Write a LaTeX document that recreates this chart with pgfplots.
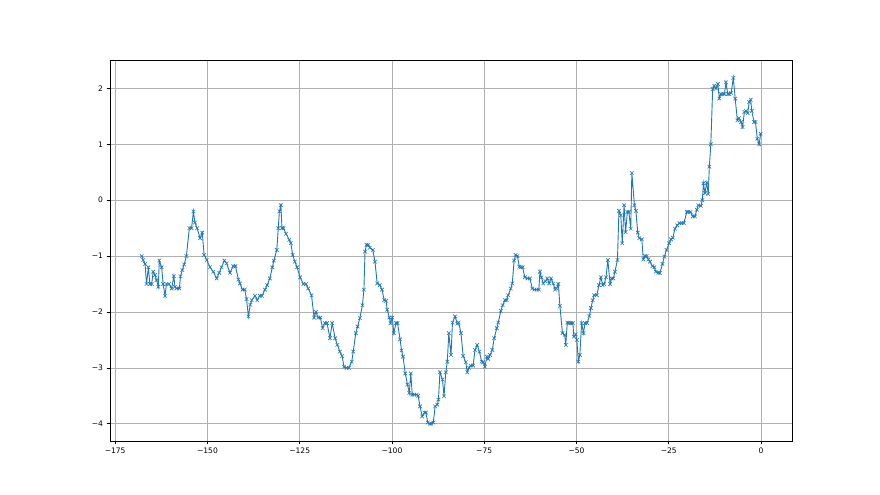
\documentclass[border=0pt]{standalone}
\usepackage{pgfplots}
\pgfplotsset{compat=1.18}
\usepackage{fontspec}
\setmainfont{DejaVu Sans}
\definecolor{mplblue}{HTML}{1F77B4}
\definecolor{gridgray}{HTML}{B0B0B0}
\begin{document}
\begin{tikzpicture}[x=1bp,y=1bp]
\useasboundingbox (0,0) rectangle (880,495);
\begin{axis}[
  at={(110bp,54bp)}, anchor=south west,
  scale only axis, width=682bp, height=381bp,
  xmin=-176.4, xmax=8.4, ymin=-4.31, ymax=2.51,
  xtick={-175,-150,-125,-100,-75,-50,-25,0},
  xticklabels={−175,−150,−125,−100,−75,−50,−25,0},
  ytick={-4,-3,-2,-1,0,1,2},
  yticklabels={−4,−3,−2,−1,0,1,2},
  tick align=outside, xtick pos=bottom, ytick pos=left,
  major tick length=3.5bp,
  grid=major,
  grid style={gridgray, line width=0.6bp},
  axis line style={black, line width=0.6bp},
  tick style={black, line width=0.6bp},
  tick label style={font=\fontsize{7.6}{8}\selectfont},
]
\addplot[mplblue, line width=0.9bp, mark=x, mark size=2.5bp, mark options={line width=0.6bp}] coordinates {
(-167.8,-1.0)(-167.4,-1.07)(-166.9,-1.14)(-166.5,-1.5)(-166.0,-1.2)(-165.6,-1.5)(-165.1,-1.5)
(-164.7,-1.28)(-164.2,-1.34)(-163.8,-1.43)(-163.3,-1.55)(-163.05,-1.08)(-162.4,-1.2)(-162.0,-1.5)
(-161.5,-1.71)(-161.1,-1.5)(-160.4,-1.5)(-159.7,-1.58)(-159.1,-1.36)(-158.8,-1.55)(-158.4,-1.58)
(-157.6,-1.58)(-157.3,-1.36)(-156.8,-1.25)(-156.3,-1.15)(-155.7,-1.0)(-154.9,-0.5)(-154.3,-0.5)
(-153.8,-0.2)(-153.4,-0.4)(-152.8,-0.5)(-152.0,-0.68)(-151.4,-0.58)(-150.9,-0.98)(-150.2,-1.07)
(-149.3,-1.2)(-148.4,-1.28)(-147.5,-1.4)(-146.8,-1.3)(-146.2,-1.2)(-145.4,-1.08)(-144.8,-1.13)
(-143.9,-1.3)(-143.0,-1.18)(-142.4,-1.18)(-141.6,-1.42)(-141.2,-1.49)(-140.5,-1.6)(-139.9,-1.6)
(-139.4,-1.77)(-138.9,-2.08)(-138.4,-1.87)(-138.0,-1.79)(-137.1,-1.71)(-136.5,-1.79)(-135.8,-1.71)
(-135.2,-1.71)(-134.4,-1.6)(-133.8,-1.52)(-133.1,-1.4)(-132.4,-1.2)(-132.0,-1.08)(-131.2,-0.89)
(-130.8,-0.5)(-130.5,-0.2)(-130.1,-0.09)(-129.8,-0.5)(-129.4,-0.5)(-128.7,-0.6)(-127.8,-0.71)
(-127.4,-0.77)(-126.9,-0.98)(-126.3,-1.1)(-125.7,-1.2)(-124.9,-1.38)(-124.0,-1.5)(-123.3,-1.5)
(-122.7,-1.58)(-121.8,-1.7)(-121.1,-2.1)(-120.6,-2.0)(-120.0,-2.1)(-119.4,-2.1)(-118.8,-2.29)
(-118.2,-2.2)(-117.6,-2.2)(-116.8,-2.47)(-116.2,-2.2)(-115.4,-2.47)(-114.8,-2.59)(-114.1,-2.71)
(-113.5,-2.79)(-113.0,-2.98)(-112.3,-3.0)(-111.7,-3.0)(-110.9,-2.89)(-110.5,-2.71)(-109.8,-2.38)
(-109.3,-2.26)(-108.7,-2.11)(-108.0,-1.88)(-107.6,-1.6)(-107.3,-0.92)(-106.9,-0.8)(-106.4,-0.8)
(-106.0,-0.85)(-105.2,-0.89)(-104.6,-1.1)(-104.0,-1.49)(-103.3,-1.52)(-102.7,-1.6)(-102.1,-1.79)
(-101.6,-1.8)(-101.3,-1.96)(-100.7,-2.1)(-100.4,-2.2)(-99.9,-2.1)(-99.5,-2.38)(-98.9,-2.2)
(-98.5,-2.2)(-97.8,-2.49)(-97.4,-2.69)(-97.0,-2.8)(-96.4,-3.1)(-95.8,-3.3)(-95.3,-3.45)
(-94.9,-3.1)(-94.5,-3.48)(-94.0,-3.48)(-93.3,-3.48)(-92.9,-3.5)(-92.4,-3.69)(-91.8,-3.87)
(-91.2,-3.8)(-90.8,-3.8)(-90.3,-3.98)(-89.7,-4.0)(-89.3,-4.0)(-88.8,-3.98)(-88.3,-3.69)
(-87.7,-3.66)(-87.4,-3.57)(-87.0,-3.08)(-86.3,-3.21)(-85.9,-3.51)(-85.4,-3.08)(-85.0,-2.89)
(-84.6,-2.38)(-84.0,-2.77)(-83.6,-2.19)(-82.9,-2.08)(-82.3,-2.21)(-81.9,-2.19)(-81.3,-2.38)
(-80.7,-2.79)(-80.0,-2.9)(-79.6,-3.08)(-79.1,-3.0)(-78.7,-2.96)(-78.0,-2.96)(-77.5,-2.68)
(-76.9,-2.59)(-76.3,-2.71)(-75.7,-2.89)(-75.3,-2.9)(-74.8,-2.98)(-74.3,-2.8)(-73.9,-2.84)
(-73.4,-2.77)(-72.8,-2.68)(-72.3,-2.47)(-71.6,-2.29)(-71.2,-2.19)(-70.5,-1.98)(-70.0,-1.88)
(-69.4,-1.79)(-68.9,-1.79)(-68.5,-1.7)(-67.8,-1.58)(-67.4,-1.49)(-66.9,-1.08)(-66.5,-0.98)
(-66.0,-1.0)(-65.5,-1.19)(-65.1,-1.2)(-64.6,-1.2)(-64.0,-1.38)(-63.3,-1.4)(-62.6,-1.4)
(-62.0,-1.58)(-61.4,-1.6)(-60.8,-1.6)(-60.2,-1.6)(-59.9,-1.28)(-59.5,-1.38)(-59.0,-1.49)
(-58.4,-1.45)(-57.9,-1.4)(-57.4,-1.49)(-56.9,-1.4)(-56.3,-1.49)(-55.8,-1.6)(-55.4,-1.58)
(-54.9,-1.5)(-54.5,-1.89)(-53.8,-2.38)(-53.2,-2.41)(-52.9,-2.59)(-52.5,-2.19)(-52.0,-2.2)
(-51.5,-2.2)(-51.0,-2.2)(-50.7,-2.44)(-50.2,-2.4)(-49.9,-2.5)(-49.5,-2.89)(-49.1,-2.77)
(-48.6,-2.2)(-48.1,-2.38)(-47.7,-2.2)(-47.1,-2.2)(-46.5,-2.07)(-46.1,-1.93)(-45.6,-1.79)
(-45.2,-1.7)(-44.5,-1.7)(-43.9,-1.52)(-43.4,-1.38)(-42.9,-1.52)(-42.5,-1.5)(-42.0,-1.38)
(-41.5,-1.07)(-40.9,-1.5)(-40.5,-1.4)(-40.0,-1.4)(-39.6,-1.28)(-38.9,-1.07)(-38.5,-0.19)
(-38.0,-0.27)(-37.6,-0.77)(-37.1,-0.09)(-36.7,-0.57)(-36.2,-0.21)(-35.8,-0.21)(-35.3,-0.51)
(-35.0,0.49)(-34.3,-0.09)(-33.9,-0.19)(-33.4,-0.58)(-33.0,-0.68)(-32.3,-0.7)(-31.9,-1.06)
(-31.4,-1.0)(-31.0,-1.0)(-30.5,-1.06)(-30.1,-1.1)(-29.4,-1.18)(-28.9,-1.2)(-28.5,-1.28)
(-27.8,-1.3)(-27.4,-1.3)(-26.7,-1.14)(-26.2,-1.01)(-25.6,-0.89)(-24.9,-0.77)(-24.4,-0.7)
(-23.9,-0.67)(-23.3,-0.51)(-22.7,-0.45)(-22.1,-0.41)(-21.5,-0.41)(-20.9,-0.41)(-20.1,-0.21)
(-19.7,-0.21)(-19.1,-0.21)(-18.5,-0.29)(-17.9,-0.29)(-17.4,-0.17)(-17.0,-0.09)(-16.3,-0.1)
(-15.9,0.0)(-15.6,0.3)(-15.2,0.13)(-14.7,0.31)(-14.3,0.11)(-14.0,0.6)(-13.6,1.0)
(-13.1,1.99)(-12.7,2.05)(-12.2,2.0)(-11.7,2.08)(-11.3,1.82)(-10.9,1.9)(-10.4,1.9)
(-9.9,1.9)(-9.5,2.11)(-9.0,1.9)(-8.6,1.9)(-8.1,1.92)(-7.5,2.19)(-7.0,1.82)
(-6.4,1.43)(-6.0,1.47)(-5.4,1.4)(-5.0,1.31)(-4.5,1.58)(-4.1,1.6)(-3.6,1.56)
(-3.2,1.76)(-2.8,1.8)(-2.5,1.6)(-1.9,1.4)(-1.5,1.4)(-1.0,1.1)(-0.5,1.0)(-0.1,1.19)
};
\end{axis}
\end{tikzpicture}
\end{document}
